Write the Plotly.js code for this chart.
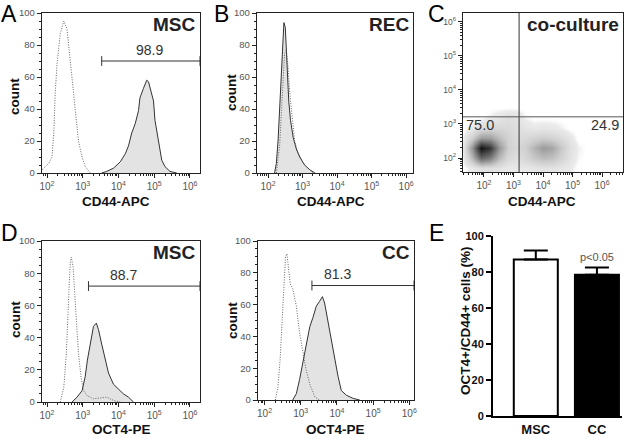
<!DOCTYPE html>
<html>
<head>
<meta charset="utf-8">
<script src="https://cdn.plot.ly/plotly-3.0.1.min.js"></script>
<style>
html, body { margin: 0; padding: 0; background: #fff; }
#fig { width: 624px; height: 438px; }
</style>
</head>
<body>
<div id="fig"></div>
<script>
// x values are log10 of fluorescence intensity, y values are counts
// Panel A: CD44-APC, MSC
var aIsoX = [1.86, 1.91, 2.05, 2.14, 2.19, 2.23, 2.28, 2.37, 2.47, 2.56, 2.60, 2.70, 2.79, 2.88, 2.98, 3.07, 3.21];
var aIsoY = [2, 3, 6, 10, 25, 50, 68, 87, 95, 90, 81, 60, 39, 20, 10, 4, 0];
var aPosX = [3.53, 3.67, 3.86, 4.05, 4.19, 4.28, 4.37, 4.47, 4.56, 4.60, 4.70, 4.79, 4.84, 4.88, 4.98, 5.02, 5.12, 5.21, 5.30, 5.44, 5.63];
var aPosY = [0, 1, 3, 7, 12, 17, 25, 31, 39, 47, 53, 58, 57, 53, 45, 33, 20, 8, 4, 1, 0];
var aGate = [3.53, 6.28];
var aGateLevel = 70;
var aGateLabel = '98.9';

// Panel B: CD44-APC, REC
var bPosX = [2.19, 2.24, 2.29, 2.34, 2.39, 2.44, 2.46, 2.50, 2.53, 2.56, 2.60, 2.65, 2.73, 2.82, 2.92, 3.06, 3.21, 3.36];
var bPosY = [0, 6, 20, 45, 66, 87, 94, 91, 77, 60, 45, 33, 22, 15, 10, 5, 2, 0];
var bIsoX = [2.24, 2.34, 2.39, 2.44, 2.48, 2.53, 2.58, 2.63, 2.71, 2.77, 2.87, 3.02, 3.16, 3.31];
var bIsoY = [0, 18, 39, 60, 75, 77, 66, 50, 33, 20, 12, 6, 3, 0];

// Panel C: co-culture density (log10 grid, darkness 0..1)
var cGridX = [1.3, 1.6, 1.9, 2.2, 2.5, 2.8, 3.1, 3.4, 3.7, 4.0, 4.3, 4.6, 4.9, 5.2, 5.5];
var cGridY = [1.7, 2.0, 2.3, 2.6, 2.9, 3.2, 3.5];
var cDensity = [
    [0, 0.05, 0.10, 0.10, 0.08, 0.05, 0.05, 0.05, 0.07, 0.08, 0.08, 0.06, 0.04, 0, 0],
    [0.03, 0.28, 0.62, 0.52, 0.28, 0.14, 0.11, 0.15, 0.22, 0.27, 0.25, 0.17, 0.08, 0.02, 0],
    [0.05, 0.42, 0.97, 0.82, 0.42, 0.19, 0.14, 0.18, 0.30, 0.40, 0.36, 0.22, 0.10, 0.03, 0],
    [0.02, 0.18, 0.38, 0.38, 0.26, 0.17, 0.12, 0.13, 0.16, 0.19, 0.17, 0.12, 0.06, 0, 0],
    [0, 0.04, 0.11, 0.14, 0.14, 0.13, 0.11, 0.07, 0.05, 0.06, 0.05, 0.03, 0, 0, 0],
    [0, 0, 0, 0.03, 0.06, 0.10, 0.08, 0.02, 0, 0, 0, 0, 0, 0, 0],
    [0, 0, 0, 0, 0, 0, 0, 0, 0, 0, 0, 0, 0, 0, 0]
];
var cQuadX = 3.19;
var cQuadY = 3.21;
var cQuadLabels = ['75.0', '24.9'];

// Panel D: OCT4-PE, MSC
var dIsoX = [2.37, 2.47, 2.54, 2.59, 2.62, 2.65, 2.68, 2.73, 2.76, 2.82, 2.88, 2.95, 3.02, 3.12, 3.30, 3.67, 3.86, 4.05];
var dIsoY = [0, 9, 30, 51, 72, 86, 90, 84, 72, 51, 30, 16, 7, 4, 2, 3, 1, 0];
var dPosX = [2.70, 2.84, 2.98, 3.07, 3.13, 3.21, 3.30, 3.38, 3.44, 3.53, 3.63, 3.72, 3.86, 4.00, 4.14, 4.28, 4.42];
var dPosY = [0, 3, 7, 16, 26, 36, 47, 49, 45, 36, 26, 18, 11, 8, 5, 3, 0];
var dGate = [3.16, 6.28];
var dGateLevel = 72;
var dGateLabel = '88.7';

// Panel D: OCT4-PE, CC
var ccIsoX = [2.30, 2.37, 2.43, 2.49, 2.54, 2.58, 2.62, 2.66, 2.71, 2.78, 2.88, 2.97, 3.06, 3.15, 3.25, 3.39, 3.52];
var ccIsoY = [0, 8, 25, 50, 75, 90, 92, 82, 73, 70, 59, 42, 29, 19, 10, 2, 0];
var ccPosX = [2.78, 2.88, 2.97, 3.06, 3.15, 3.25, 3.34, 3.43, 3.52, 3.60, 3.66, 3.75, 3.85, 3.94, 4.03, 4.12, 4.26, 4.45, 4.63];
var ccPosY = [0, 4, 13, 23, 34, 46, 52, 59, 62, 65, 61, 50, 36, 25, 15, 6, 3, 1, 0];
var ccGate = [3.31, 6.13];
var ccGateLevel = 72;
var ccGateLabel = '81.3';

// Panel E: OCT4+/CD44+ cells (%)
var eGroups = ['MSC', 'CC'];
var eMeans = [87, 78.5];
var eErr = [5, 4];
var eColors = ['#ffffff', '#000000'];

var decades = [2, 3, 4, 5, 6];
var decadeText = ['10<sup>2</sup>', '10<sup>3</sup>', '10<sup>4</sup>', '10<sup>5</sup>', '10<sup>6</sup>'];
var FONT = 'Liberation Sans, Arial, Helvetica, sans-serif';
var W = 624, H = 438;

function px(x) { return x / W; }
function py(y) { return 1 - y / H; }

// minor ticks at 2..9 x 10^n
function minorVals(range) {
    var vals = [];
    for (var n = 0; n <= 7; n++) {
        for (var k = 2; k <= 9; k++) {
            var v = n + Math.log10(k);
            if (v > range[0] && v < range[1]) vals.push(v);
        }
    }
    return vals;
}

function logAxis(x0, x1, range, anchor, fontSize) {
    return {
        domain: [px(x0), px(x1)], range: range, anchor: anchor,
        showline: true, mirror: true, linecolor: '#222', linewidth: 1.2,
        ticks: 'outside', ticklen: 4, tickwidth: 1, tickcolor: '#222',
        tickmode: 'array', tickvals: decades, ticktext: decadeText,
        tickfont: {family: FONT, size: fontSize || 10, color: '#555'},
        minor: {tickmode: 'array', tickvals: minorVals(range), ticks: 'outside', ticklen: 2, tickcolor: '#222'},
        showgrid: false, zeroline: false, fixedrange: true
    };
}

function countAxis(y0, y1, anchor) {
    return {
        domain: [py(y1), py(y0)], range: [0, 100], anchor: anchor,
        showline: true, mirror: true, linecolor: '#222', linewidth: 1.2,
        ticks: 'outside', ticklen: 4, tickwidth: 1, tickcolor: '#222',
        tickmode: 'array', tickvals: [0, 20, 40, 60, 80, 100],
        tickfont: {family: FONT, size: 9.5, color: '#555'},
        minor: {tickmode: 'linear', tick0: 0, dtick: 5, ticks: 'outside', ticklen: 2, tickcolor: '#222'},
        showgrid: false, zeroline: false, fixedrange: true
    };
}

function filledTrace(xs, ys, xa, ya) {
    return {x: xs, y: ys, xaxis: xa, yaxis: ya, type: 'scatter', mode: 'lines',
        line: {color: '#333', width: 1}, fill: 'tozeroy', fillcolor: '#e3e3e3',
        hoverinfo: 'skip', showlegend: false};
}

function dottedTrace(xs, ys, xa, ya) {
    return {x: xs, y: ys, xaxis: xa, yaxis: ya, type: 'scatter', mode: 'lines',
        line: {color: '#555', width: 0.9, dash: '1px,1.5px'}, hoverinfo: 'skip', showlegend: false};
}

function gateTrace(gate, level, xa, ya) {
    return {x: gate, y: [level, level], xaxis: xa, yaxis: ya, type: 'scatter', mode: 'lines+markers',
        line: {color: '#333', width: 1},
        marker: {symbol: 'line-ns-open', size: 7, color: '#333', line: {color: '#333', width: 1}},
        hoverinfo: 'skip', showlegend: false, cliponaxis: false};
}

var data = [
    filledTrace(aPosX, aPosY, 'x', 'y'),
    dottedTrace(aIsoX, aIsoY, 'x', 'y'),
    gateTrace(aGate, aGateLevel, 'x', 'y'),

    filledTrace(bPosX, bPosY, 'x2', 'y2'),
    dottedTrace(bIsoX, bIsoY, 'x2', 'y2'),

    {x: cGridX, y: cGridY, z: cDensity, xaxis: 'x3', yaxis: 'y3', type: 'heatmap',
        zmin: 0, zmax: 1, zsmooth: 'best', showscale: false, hoverinfo: 'skip',
        colorscale: [[0, 'rgba(255,255,255,0)'], [0.03, 'rgb(236,236,236)'], [0.2, 'rgb(205,205,205)'],
                     [0.5, 'rgb(130,130,130)'], [1, 'rgb(10,10,10)']]},

    filledTrace(dPosX, dPosY, 'x4', 'y4'),
    dottedTrace(dIsoX, dIsoY, 'x4', 'y4'),
    gateTrace(dGate, dGateLevel, 'x4', 'y4'),

    filledTrace(ccPosX, ccPosY, 'x5', 'y5'),
    dottedTrace(ccIsoX, ccIsoY, 'x5', 'y5'),
    gateTrace(ccGate, ccGateLevel, 'x5', 'y5'),

    {x: eGroups, y: eMeans, xaxis: 'x6', yaxis: 'y6', type: 'bar', width: 0.72,
        marker: {color: eColors, line: {color: '#000', width: 2}},
        error_y: {type: 'data', symmetric: false, array: eErr, arrayminus: [0, 0],
            color: '#000', thickness: 2, width: 12},
        hoverinfo: 'skip', showlegend: false}
];

function note(text, x, y, size, opts) {
    var a = {text: text, x: px(x), y: py(y), xref: 'paper', yref: 'paper',
        showarrow: false, xanchor: 'center', yanchor: 'middle',
        font: {family: FONT, size: size, color: '#111'}};
    for (var k in opts) a[k] = opts[k];
    return a;
}

var letterFont = {family: FONT, size: 23, color: '#000'};
var titleFont = {family: FONT, size: 19, color: '#222'};

var annotations = [
    note('A', 9, 14, 23, {font: letterFont}),
    note('B', 221, 14, 23, {font: letterFont}),
    note('C', 436, 14, 23, {font: letterFont}),
    note('D', 9, 233, 23, {font: letterFont}),
    note('E', 436, 233, 23, {font: letterFont}),

    note('<b>MSC</b>', 198, 24, 19, {xanchor: 'right', font: titleFont}),
    note('<b>REC</b>', 411, 24, 19, {xanchor: 'right', font: titleFont}),
    note('<b>co-culture</b>', 621, 24, 19, {xanchor: 'right', font: titleFont}),
    note('<b>MSC</b>', 198, 252, 19, {xanchor: 'right', font: titleFont}),
    note('<b>CC</b>', 412, 252, 19, {xanchor: 'right', font: titleFont}),

    note('<b>count</b>', 15, 97, 13.5, {textangle: -90}),
    note('<b>count</b>', 232, 93, 13.5, {textangle: -90}),
    note('<b>count</b>', 15, 320, 13.5, {textangle: -90}),
    note('<b>count</b>', 232, 321, 13.5, {textangle: -90}),

    note('<b>CD44-APC</b>', 116, 202, 13.5),
    note('<b>CD44-APC</b>', 331, 202, 13.5),
    note('<b>CD44-APC</b>', 542, 202, 13.5),
    note('<b>OCT4-PE</b>', 121, 429, 13.5),
    note('<b>OCT4-PE</b>', 335, 429, 13.5),

    {text: aGateLabel, x: 4.88, y: aGateLevel + 7, xref: 'x', yref: 'y', showarrow: false,
        font: {family: FONT, size: 14, color: '#333'}},
    {text: dGateLabel, x: 4.14, y: dGateLevel + 7, xref: 'x4', yref: 'y4', showarrow: false,
        font: {family: FONT, size: 14, color: '#333'}},
    {text: ccGateLabel, x: 4.03, y: ccGateLevel + 7, xref: 'x5', yref: 'y5', showarrow: false,
        font: {family: FONT, size: 14, color: '#333'}},

    note(cQuadLabels[0], 480, 125, 14.5, {font: {family: FONT, size: 14.5, color: '#333'}}),
    note(cQuadLabels[1], 621, 125, 14.5, {xanchor: 'right', font: {family: FONT, size: 14.5, color: '#333'}}),

    note('<b>OCT4+/CD44+ cells (%)</b>', 465, 321, 13.5, {textangle: -90}),
    note('p<0.05', 597, 257, 11, {font: {family: FONT, size: 11, color: '#555'}})
];

var layout = {
    width: W, height: H,
    margin: {l: 0, r: 0, t: 0, b: 0},
    paper_bgcolor: '#fff', plot_bgcolor: 'rgba(0,0,0,0)',
    showlegend: false,
    font: {family: FONT},

    xaxis: logAxis(42, 200, [1.86, 6.28], 'y'),
    yaxis: countAxis(13, 173, 'x'),

    xaxis2: logAxis(257, 413, [1.68, 6.2], 'y2'),
    yaxis2: countAxis(13, 173, 'x2'),

    xaxis3: logAxis(463, 623, [1.29, 6.71], 'y3'),
    yaxis3: (function () {
        var ax = logAxis(0, 1, [1.59, 6.26], 'x3', 8.5);
        ax.domain = [py(172), py(13)];
        return ax;
    })(),

    xaxis4: logAxis(42, 200, [1.86, 6.28], 'y4'),
    yaxis4: countAxis(241, 402, 'x4'),

    xaxis5: logAxis(258, 414, [1.82, 6.13], 'y5'),
    yaxis5: countAxis(241, 400, 'x5'),

    xaxis6: {
        domain: [px(493), px(622)], anchor: 'y6', range: [-0.7, 1.41],
        showline: true, linecolor: '#000', linewidth: 2, ticks: '',
        tickfont: {family: FONT, size: 13, color: '#111', weight: 'bold'},
        showgrid: false, zeroline: false, fixedrange: true
    },
    yaxis6: {
        domain: [py(416), py(236)], anchor: 'x6', range: [0, 100],
        showline: true, linecolor: '#000', linewidth: 2,
        ticks: 'outside', ticklen: 5, tickwidth: 2, tickcolor: '#000',
        tickmode: 'linear', tick0: 0, dtick: 20,
        tickfont: {family: FONT, size: 11, color: '#111', weight: 'bold'},
        showgrid: false, zeroline: false, fixedrange: true
    },

    shapes: [
        {type: 'line', xref: 'x3', yref: 'y3 domain', x0: cQuadX, x1: cQuadX, y0: 0, y1: 1,
            line: {color: '#333', width: 1}},
        {type: 'line', xref: 'x3 domain', yref: 'y3', x0: 0, x1: 1, y0: cQuadY, y1: cQuadY,
            line: {color: '#555', width: 1}}
    ],
    annotations: annotations
};

Plotly.newPlot('fig', data, layout, {staticPlot: true, displayModeBar: false});
</script>
</body>
</html>
